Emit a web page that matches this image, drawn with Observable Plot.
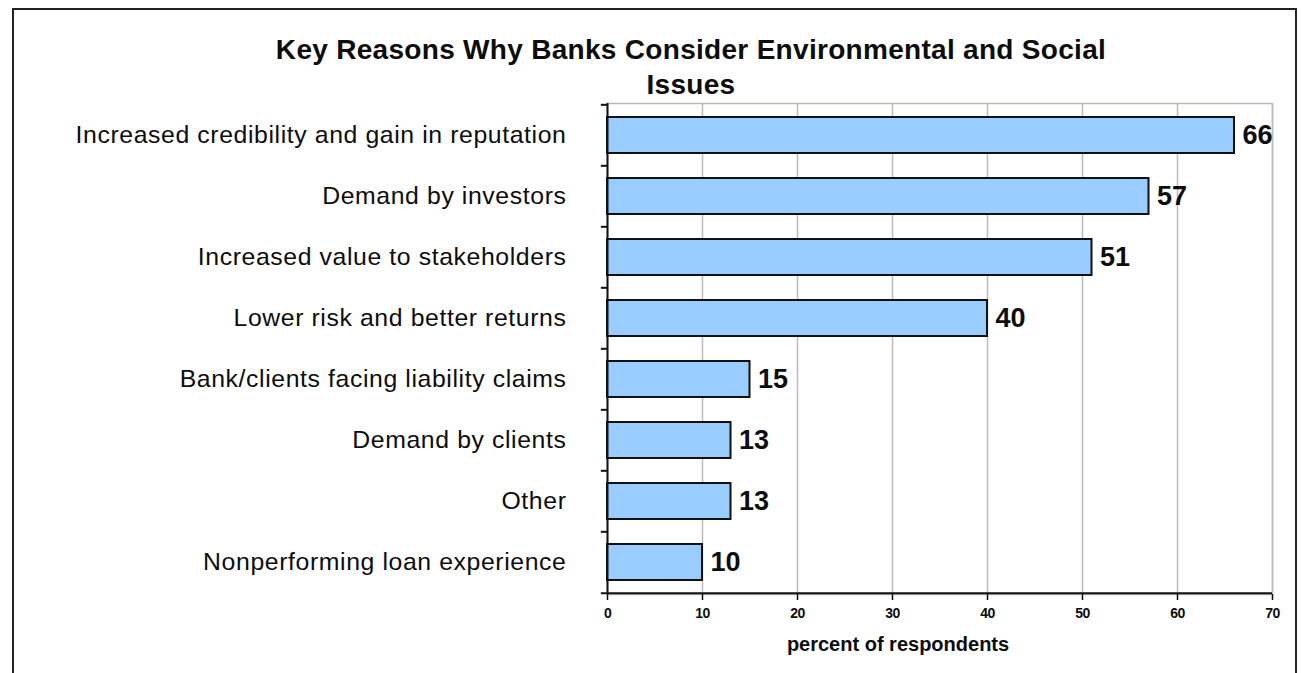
<!DOCTYPE html>
<html>
<head>
<meta charset="utf-8">
<script src="https://cdn.jsdelivr.net/npm/d3@7"></script>
<script src="https://cdn.jsdelivr.net/npm/@observablehq/plot@0.6"></script>
<style>
  html, body { margin: 0; padding: 0; background: #fff; }
  #wrap { position: relative; width: 1312px; height: 673px; overflow: hidden; font-family: "Liberation Sans", Arial, sans-serif; }
  #border { position: absolute; left: 12px; top: 8px; width: 1285px; height: 700px; border: 2px solid #222; box-sizing: border-box; }
  #title { position: absolute; left: 0; top: 32px; width: 1382px; text-align: center; font-weight: bold; font-size: 28px; line-height: 35px; letter-spacing: 0.3px; color: #0d0d0d; }
  #chart { position: absolute; left: 0; top: 0; }
  g[aria-label="y-axis tick label"] text { letter-spacing: 0.6px; }
  g[aria-label="x-axis tick label"], g[aria-label="x-axis tick label"] text { font-size: 14px !important; font-weight: bold !important; letter-spacing: -0.6px; }
</style>
</head>
<body>
<div id="wrap">
  <div id="border"></div>
  <div id="chart"></div>
  <div id="title">Key Reasons Why Banks Consider Environmental and Social<br>Issues</div>
</div>
<script>
const categories = [
  "Increased credibility and gain in reputation",
  "Demand by investors",
  "Increased value to stakeholders",
  "Lower risk and better returns",
  "Bank/clients facing liability claims",
  "Demand by clients",
  "Other",
  "Nonperforming loan experience"
];
const values = [66, 57, 51, 40, 15, 13, 13, 10];
const xTicks = [0, 10, 20, 30, 40, 50, 60, 70];
const xLabel = "percent of respondents";

const data = categories.map((c, i) => ({label: c, value: values[i]}));

const W = 1312, H = 673;
const mTop = 103, mBottom = 79, mLeft = 607, mRight = 40;
const step = (H - mTop - mBottom) / categories.length;

const chart = Plot.plot({
  width: W,
  height: H,
  marginTop: mTop,
  marginBottom: mBottom,
  marginLeft: mLeft,
  marginRight: mRight,
  style: {fontFamily: "'Liberation Sans', Arial, sans-serif", background: "transparent", color: "#0d0d0d", overflow: "visible"},
  x: {domain: [0, 70]},
  y: {domain: categories, paddingInner: 0.41, paddingOuter: 0.205},
  marks: [
    Plot.frame({stroke: "#b8b8b8", strokeWidth: 1.5}),
    Plot.ruleX(xTicks.slice(1), {stroke: "#bdbdbd", strokeWidth: 1.5}),
    Plot.barX(data, {x: "value", y: "label", fill: "#99ccff", stroke: "#111", strokeWidth: 2}),
    Plot.ruleX([0], {stroke: "#111", strokeWidth: 2}),
    Plot.ruleY(categories, {y: d => d, x1: -0.65, x2: 0, dy: -step / 2, stroke: "#111", strokeWidth: 2}),
    Plot.ruleY(categories.slice(-1), {y: d => d, x1: -0.65, x2: 70, dy: step / 2, stroke: "#111", strokeWidth: 2}),
    Plot.text(data, {x: "value", y: "label", text: d => String(d.value), textAnchor: "start", dx: 8, fontSize: 27, fontWeight: "bold", fill: "#0d0d0d"}),
    Plot.axisY({tickSize: 0, tickPadding: 41, fontSize: 24.8, label: null}),
    Plot.axisX({ticks: xTicks, tickSize: 6, tickPadding: 8, fontSize: 14, fontWeight: "bold", label: null, strokeWidth: 1.5}),
    Plot.text([xLabel], {frameAnchor: "bottom", dy: 56, dx: -42, fontSize: 20, fontWeight: "bold", fill: "#0d0d0d", style: "letter-spacing:0.4px"})
  ]
});
document.getElementById("chart").appendChild(chart);
</script>
</body>
</html>
